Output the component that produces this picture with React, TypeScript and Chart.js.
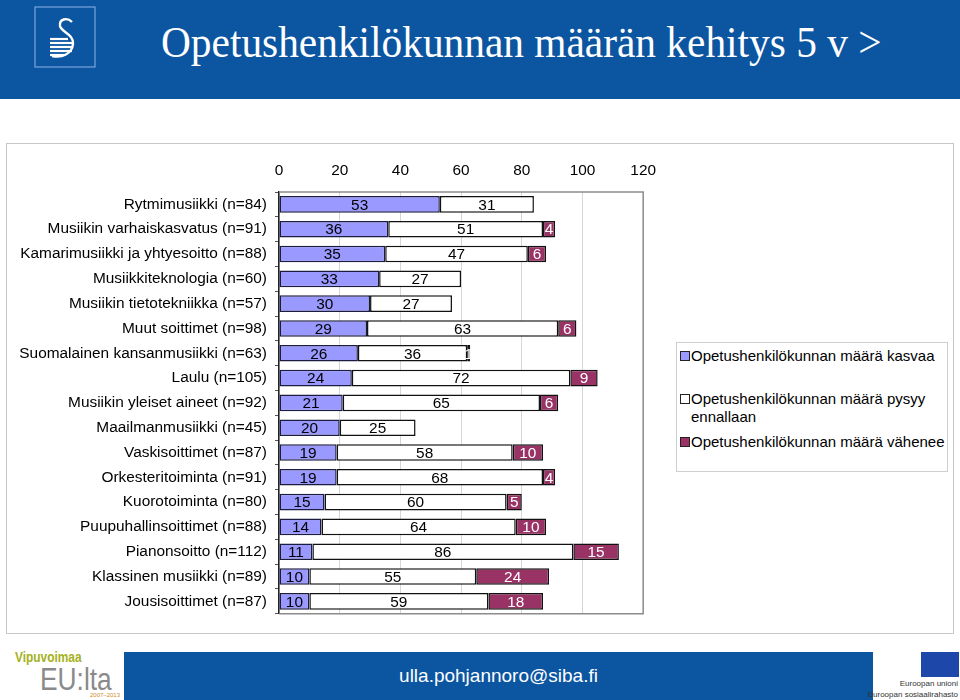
import React, { useEffect, useRef } from "react";
import { Chart, registerables } from "chart.js";

Chart.register(...registerables);

const categories = [
  "Rytmimusiikki (n=84)",
  "Musiikin varhaiskasvatus (n=91)",
  "Kamarimusiikki ja yhtyesoitto (n=88)",
  "Musiikkiteknologia (n=60)",
  "Musiikin tietotekniikka (n=57)",
  "Muut soittimet (n=98)",
  "Suomalainen kansanmusiikki (n=63)",
  "Laulu (n=105)",
  "Musiikin yleiset aineet (n=92)",
  "Maailmanmusiikki (n=45)",
  "Vaskisoittimet (n=87)",
  "Orkesteritoiminta (n=91)",
  "Kuorotoiminta (n=80)",
  "Puupuhallinsoittimet (n=88)",
  "Pianonsoitto (n=112)",
  "Klassinen musiikki (n=89)",
  "Jousisoittimet (n=87)",
];
const increase = [53, 36, 35, 33, 30, 29, 26, 24, 21, 20, 19, 19, 15, 14, 11, 10, 10];
const unchanged = [31, 51, 47, 27, 27, 63, 36, 72, 65, 25, 58, 68, 60, 64, 86, 55, 59];
const decrease = [0, 4, 6, 0, 0, 6, 1, 9, 6, 0, 10, 4, 5, 10, 15, 24, 18];
const xTicks = [0, 20, 40, 60, 80, 100, 120];
const seriesNames = [
  "Opetushenkilökunnan määrä kasvaa",
  "Opetushenkilökunnan määrä pysyy ennallaan",
  "Opetushenkilökunnan määrä vähenee",
];
const title = "Opetushenkilökunnan määrän kehitys 5 v >";
const email = "ulla.pohjannoro@siba.fi";

const FILLS = ["#9999ff", "#ffffff", "#993366"];
const BORDERS = ["#1c1c40", "#111111", "#111111"];
const LABEL_COLORS = ["#000000", "#000000", "#ffffff"];
const FONT = "'Liberation Sans', Arial, sans-serif";

const labelPlugin = {
  id: "barLabels",
  afterDatasetsDraw(chart: any) {
    const ctx = chart.ctx;
    ctx.save();
    ctx.font = `15.4px ${FONT}`;
    ctx.textAlign = "center";
    ctx.textBaseline = "middle";
    chart.data.datasets.forEach((ds: any, i: number) => {
      const meta = chart.getDatasetMeta(i);
      meta.data.forEach((bar: any, j: number) => {
        const v = ds.data[j];
        if (!v) return;
        const p = bar.getProps(["x", "y", "base"], true);
        ctx.fillStyle = LABEL_COLORS[i];
        ctx.fillText(String(v), (p.x + p.base) / 2, p.y + 1);
      });
    });
    ctx.restore();
  },
};

const framePlugin = {
  id: "plotFrame",
  beforeDatasetsDraw(chart: any) {
    const { ctx, chartArea: a } = chart;
    ctx.save();
    ctx.strokeStyle = "#8c8c8c";
    ctx.lineWidth = 1.5;
    ctx.beginPath();
    ctx.moveTo(a.left, a.top);
    ctx.lineTo(a.right, a.top);
    ctx.lineTo(a.right, a.bottom);
    ctx.lineTo(a.left, a.bottom);
    ctx.stroke();
    ctx.restore();
  },
};

function BarChart() {
  const ref = useRef<HTMLCanvasElement>(null);
  useEffect(() => {
    if (!ref.current) return;
    const series = [increase, unchanged, decrease];
    const chart = new Chart(ref.current, {
      type: "bar",
      data: {
        labels: categories,
        datasets: series.map((s, i) => ({
          label: seriesNames[i],
          data: s.map((v) => (v === 0 ? null : v)),
          backgroundColor: FILLS[i],
          borderColor: BORDERS[i],
          borderWidth: 1.5,
          borderSkipped: false,
          categoryPercentage: 1,
          barPercentage: 0.67,
        })),
      },
      options: {
        indexAxis: "y",
        responsive: false,
        animation: false,
        devicePixelRatio: 1,
        layout: { padding: { left: 0, right: 22, top: 0, bottom: 8 } },
        plugins: {
          legend: { display: false },
          tooltip: { enabled: false },
        },
        scales: {
          x: {
            position: "top",
            stacked: true,
            min: 0,
            max: 120,
            afterBuildTicks: (scale: any) => {
              scale.ticks = xTicks.map((v) => ({ value: v }));
            },
            afterFit: (scale: any) => {
              scale.height = 47;
            },
            ticks: {
              color: "#000",
              font: { size: 15.4, family: FONT },
              padding: 12,
            },
            grid: { color: "#d6d6d6", drawTicks: false, lineWidth: 1 },
            border: { display: false },
          },
          y: {
            stacked: true,
            afterFit: (scale: any) => {
              scale.width = 271;
            },
            ticks: {
              color: "#000",
              font: { size: 15.4, family: FONT },
              padding: 8,
            },
            grid: {
              display: true,
              drawOnChartArea: false,
              drawTicks: true,
              tickLength: 4,
              offset: true,
              color: "#555",
            },
            border: { display: true, color: "#222", width: 1.5 },
          },
        },
      },
      plugins: [framePlugin, labelPlugin],
    } as any);
    return () => chart.destroy();
  }, []);
  return <canvas ref={ref} width={660} height={486} style={{ position: "absolute", left: 8, top: 145, width: 660, height: 486 }} />;
}

function Logo() {
  return (
    <svg width={62} height={62} style={{ position: "absolute", left: 34, top: 6 }} viewBox="0 0 62 62">
      <rect x={1} y={1} width={60} height={60} fill="none" stroke="#7aa6dc" strokeWidth={1.2} />
      <path d="M38 16 C33 11 25 13 26 20 C27 26 40 28 39 38 C38 48 28 52 18 50" fill="none" stroke="#fff" strokeWidth={2.4} />
      {[33, 37, 41, 45, 49].map((y, i) => (
        <line key={i} x1={16} y1={y} x2={i === 0 ? 34 : i === 4 ? 30 : 38} y2={y} stroke="#fff" strokeWidth={2.2} />
      ))}
    </svg>
  );
}

export default function App() {
  const legendItem = (i: number, top: number, text: React.ReactNode) => (
    <div style={{ position: "absolute", left: 680, top, width: 266, fontFamily: FONT, fontSize: 15, lineHeight: "18px", color: "#000" }}>
      <span style={{ position: "absolute", left: 0, top: 4, width: 8, height: 8, background: FILLS[i], border: "1px solid #222" }} />
      <div style={{ marginLeft: 11 }}>{text}</div>
    </div>
  );
  return (
    <div style={{ position: "fixed", left: 0, top: 0, width: 960, height: 700, background: "#fff", overflow: "hidden" }}>
      <div style={{ position: "absolute", left: 0, top: 0, width: 960, height: 99, background: "#0b55a1" }} />
      <Logo />
      <div
        style={{
          position: "absolute",
          left: 161,
          top: 17,
          fontFamily: "'Liberation Serif', 'Times New Roman', serif",
          fontSize: 44,
          lineHeight: "52px",
          color: "#fff",
          whiteSpace: "nowrap",
          transform: "scaleX(0.94)",
          transformOrigin: "left top",
        }}
      >
        {title}
      </div>
      <div style={{ position: "absolute", left: 6, top: 143, width: 946, height: 489, border: "1px solid #c8c8c8" }} />
      <BarChart />
      <div style={{ position: "absolute", left: 676, top: 342, width: 270, height: 128, border: "1px solid #cfcfcf" }} />
      {legendItem(0, 347, seriesNames[0])}
      {legendItem(1, 390, seriesNames[1])}
      {legendItem(2, 433, seriesNames[2])}
      <div style={{ position: "absolute", left: 124, top: 652, width: 749, height: 48, background: "#0b55a1" }} />
      <div
        style={{
          position: "absolute",
          left: 124,
          top: 652,
          width: 749,
          height: 48,
          lineHeight: "48px",
          textAlign: "center",
          color: "#fff",
          fontFamily: FONT,
          fontSize: 19,
        }}
      >
        {email}
      </div>
      <div style={{ position: "absolute", left: 15, top: 649, fontFamily: FONT, fontWeight: "bold", fontSize: 14, color: "#a3b11c", transform: "scaleX(0.85)", transformOrigin: "left top" }}>Vipuvoimaa</div>
      <div style={{ position: "absolute", left: 40, top: 662, fontFamily: FONT, fontSize: 31, color: "#8a8a8a", fontWeight: 300, transform: "scaleX(0.85)", transformOrigin: "left top", lineHeight: "36px" }}>EU:lta</div>
      <div style={{ position: "absolute", left: 90, top: 692, fontFamily: FONT, fontSize: 6, color: "#d08a2a" }}>2007–2013</div>
      <div style={{ position: "absolute", left: 921, top: 652, width: 38, height: 25, background: "#1d47a8" }} />
      <div style={{ position: "absolute", right: 2, top: 679, fontFamily: FONT, fontSize: 8, color: "#333", textAlign: "right", whiteSpace: "nowrap", lineHeight: "10px" }}>Euroopan unioni</div>
      <div style={{ position: "absolute", right: 2, top: 690, fontFamily: FONT, fontSize: 8, color: "#333", textAlign: "right", whiteSpace: "nowrap", lineHeight: "10px" }}>Euroopan sosiaalirahasto</div>
    </div>
  );
}
